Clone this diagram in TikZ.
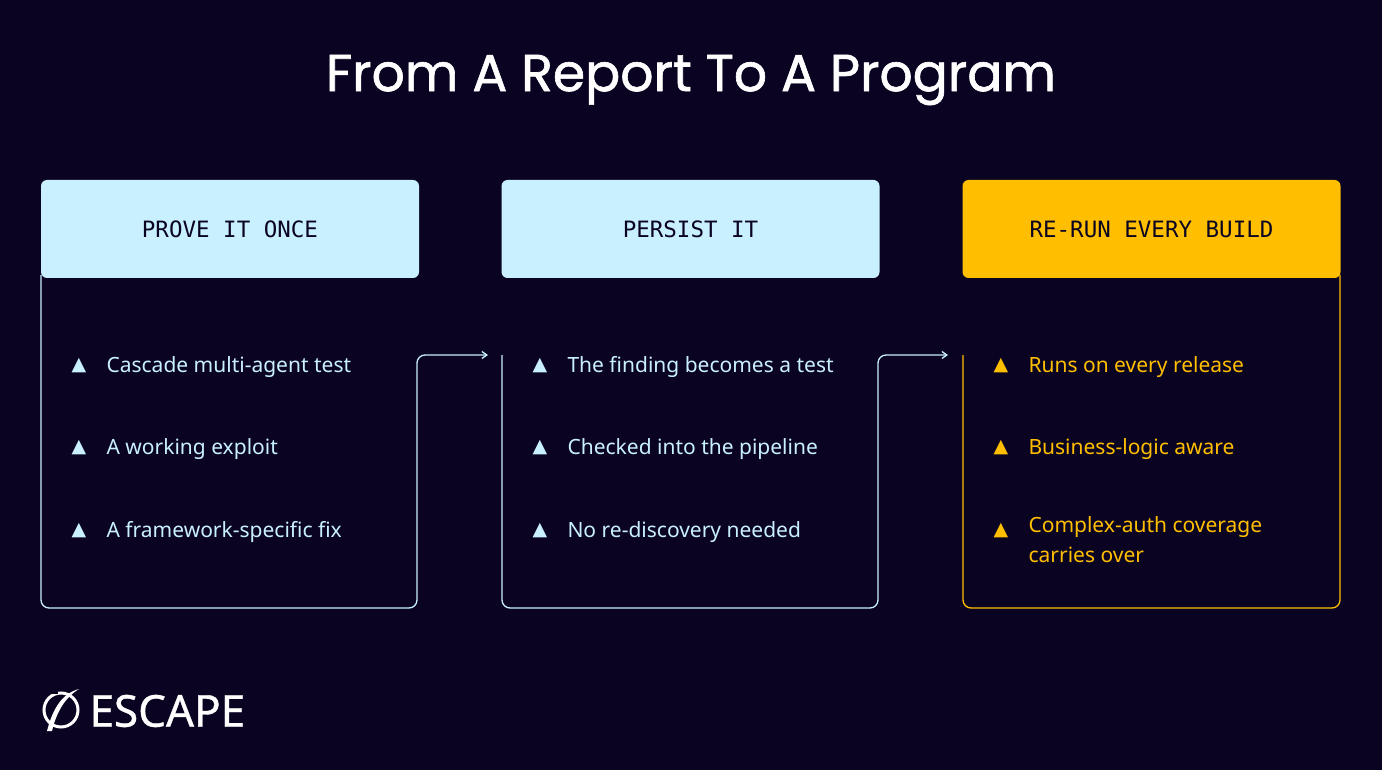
\documentclass[tikz,border=0pt]{standalone}
\usepackage{fontspec}
\setmainfont{Noto Sans}
\newfontfamily\titlefont{Poppins}[FakeBold=1.2]
\newfontfamily\monofont{DejaVu Sans Mono}
\newfontfamily\symfont{DejaVu Sans}
\newfontfamily\logofont{Noto Sans}[FakeBold=0.8]
\usetikzlibrary{arrows.meta}
\definecolor{bg}{HTML}{0A0321}
\definecolor{cy}{HTML}{C9F1FD}
\definecolor{yl}{HTML}{FFBF00}
\begin{document}
\begin{tikzpicture}[x=1pt,y=-1pt,
  hdr/.style={rounded corners=6pt,minimum width=378pt,minimum height=98pt,font=\monofont\fontsize{22.5}{26}\selectfont,text=bg},
  item/.style={anchor=west,font=\fontsize{21}{30}\selectfont,align=left},
  bul/.style={font=\symfont\fontsize{19}{20}\selectfont},
  ln/.style={line width=1.3pt,rounded corners=8pt},
  arr/.style={ln,-{Straight Barb[length=5pt,width=7pt]}}]
\fill[bg] (0,0) rectangle (1382,770);
\useasboundingbox (0,0) rectangle (1382,770);
\node[text=white,font=\titlefont\fontsize{52}{58}\selectfont] (title) at (691,80) {From A Report To A Program};
\node[hdr,fill=cy] (h1) at (230,229) {PROVE IT ONCE};
\node[hdr,fill=cy] (h2) at (690.5,229) {PERSIST IT};
\node[hdr,fill=yl] (h3) at (1151.5,229) {RE-RUN EVERY BUILD};
\coordinate (a1) at (488,355);
\coordinate (a2) at (948,355);
\draw[cy,arr] (41,275) -- (41,608) -- (417,608) -- (417,355) -- (a1);
\draw[cy,arr] (502,355) -- (502,608) -- (878,608) -- (878,355) -- (a2);
\draw[yl,ln] (963,355) -- (963,608) -- (1340,608) -- (1340,275);
\foreach \x/\y/\c/\t [count=\i] in {79/366/cy/Cascade multi-agent test,79/448/cy/A working exploit,79/531/cy/A framework-specific fix,540/366/cy/The finding becomes a test,540/448/cy/Checked into the pipeline,540/531/cy/No re-discovery needed,1001/366/yl/Runs on every release,1001/448/yl/Business-logic aware}{
  \node[bul,text=\c] (b\i) at (\x,\y) {▲};
  \node[item,text=\c] (t\i) at (\x+24,\y+1) {\t};
}
\node[bul,text=yl] (b9) at (1001,531) {▲};
\node[item,text=yl,anchor=north west] (t9) at (1025,513) {Complex-auth coverage\\carries over};
% logo
\draw[white,line width=3pt] (61,710) circle (17pt);
\fill[bg] (50,690) rectangle (58,694);
\fill[white] (47,731) .. controls (52,712) and (60,694) .. (79,689) .. controls (64,698) and (56,714) .. (52,731) -- cycle;
\node[anchor=west,text=white,font=\logofont\fontsize{44}{46}\selectfont] (logo) at (86,711) {ESCAPE};
\end{tikzpicture}
\end{document}
